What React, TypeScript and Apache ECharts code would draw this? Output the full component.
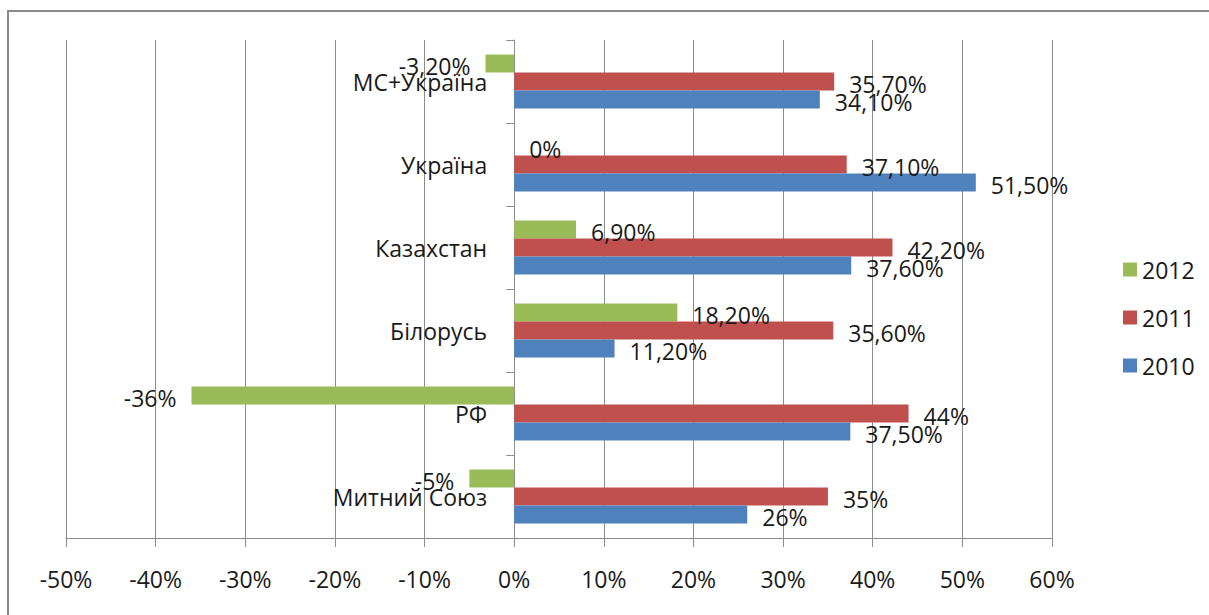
import React, { useEffect, useRef } from "react";
import * as echarts from "echarts";

const categories = ["Митний Союз", "РФ", "Білорусь", "Казахстан", "Україна", "МС+Україна"];
const seriesNames = ["2012", "2011", "2010"];
const values2012 = [-5, -36, 18.2, 6.9, 0, -3.2];
const values2011 = [35, 44, 35.6, 42.2, 37.1, 35.7];
const values2010 = [26, 37.5, 11.2, 37.6, 51.5, 34.1];
const colors = ["#9BBB59", "#C0504D", "#4F81BD"];
const xTicks = { min: -50, max: 60, interval: 10 };

const FONT = "Open Sans";
const FS = 23;
const GRID_LEFT = 66;
const GRID_RIGHT = 157;

function fmt(v: number): string {
  if (Number.isInteger(v)) return `${v}%`;
  return v.toFixed(2).replace(".", ",") + "%";
}

export default function App() {
  const ref = useRef<HTMLDivElement>(null);
  useEffect(() => {
    if (!ref.current) return;
    const chart = echarts.init(ref.current, null, { renderer: "svg" });
    const all = [values2012, values2011, values2010];
    const plotW = 1209 - GRID_LEFT - GRID_RIGHT;
    const zeroOffset = (plotW * (0 - xTicks.min)) / (xTicks.max - xTicks.min);
    chart.setOption({
      animation: false,
      backgroundColor: "#ffffff",
      textStyle: { fontFamily: FONT },
      graphic: [
        {
          type: "rect",
          shape: { x: 8, y: 11, width: 1400, height: 800 },
          style: { fill: "none", stroke: "#8a8a8a", lineWidth: 2 },
          silent: true,
        },
      ],
      legend: {
        orient: "vertical",
        left: 1118,
        top: 253,
        itemWidth: 14,
        itemHeight: 14,
        itemGap: 25,
        icon: "rect",
        data: seriesNames,
        textStyle: { fontFamily: FONT, fontSize: FS, color: "#1a1a1a" },
      },
      grid: {
        left: GRID_LEFT,
        right: GRID_RIGHT,
        top: 40,
        bottom: 77,
        containLabel: false,
        outerBoundsMode: "none",
      },
      xAxis: {
        type: "value",
        min: xTicks.min,
        max: xTicks.max,
        interval: xTicks.interval,
        axisLine: { show: true, lineStyle: { color: "#8c8c8c", width: 1 } },
        axisTick: { show: true, length: 9, lineStyle: { color: "#8c8c8c" } },
        splitLine: { show: true, lineStyle: { color: "#8c8c8c", width: 1 } },
        axisLabel: {
          formatter: (v: number) => `${v}%`,
          fontFamily: FONT,
          fontSize: FS,
          color: "#1a1a1a",
          margin: 29,
        },
      },
      yAxis: [
        {
          type: "category",
          data: categories,
          axisLine: { show: true, onZero: true, lineStyle: { color: "#8c8c8c", width: 1 } },
          axisTick: { show: true, length: 8, lineStyle: { color: "#8c8c8c" } },
          axisLabel: { show: false },
        },
        {
          type: "category",
          data: categories,
          position: "left",
          offset: -zeroOffset,
          axisLine: { show: false, onZero: false },
          axisTick: { show: false },
          splitLine: { show: false },
          axisLabel: { fontFamily: FONT, fontSize: FS, color: "#1a1a1a", margin: 27 },
        },
      ],
      series: seriesNames.map((name, i) => ({
        name,
        type: "bar",
        barWidth: 18,
        barGap: "0%",
        itemStyle: { color: colors[i] },
        data: all[i].map((v) => ({
          value: v,
          label: { position: v < 0 ? "left" : "right" },
        })),
        label: {
          show: true,
          distance: 15,
          offset: [0, 2],
          fontFamily: FONT,
          fontSize: FS,
          color: "#1a1a1a",
          formatter: (p: any) => fmt(p.value),
        },
      })),
    });
    return () => chart.dispose();
  }, []);
  return (
    <div
      ref={ref}
      style={{ position: "fixed", left: 0, top: 0, width: 1209, height: 615 }}
    />
  );
}
